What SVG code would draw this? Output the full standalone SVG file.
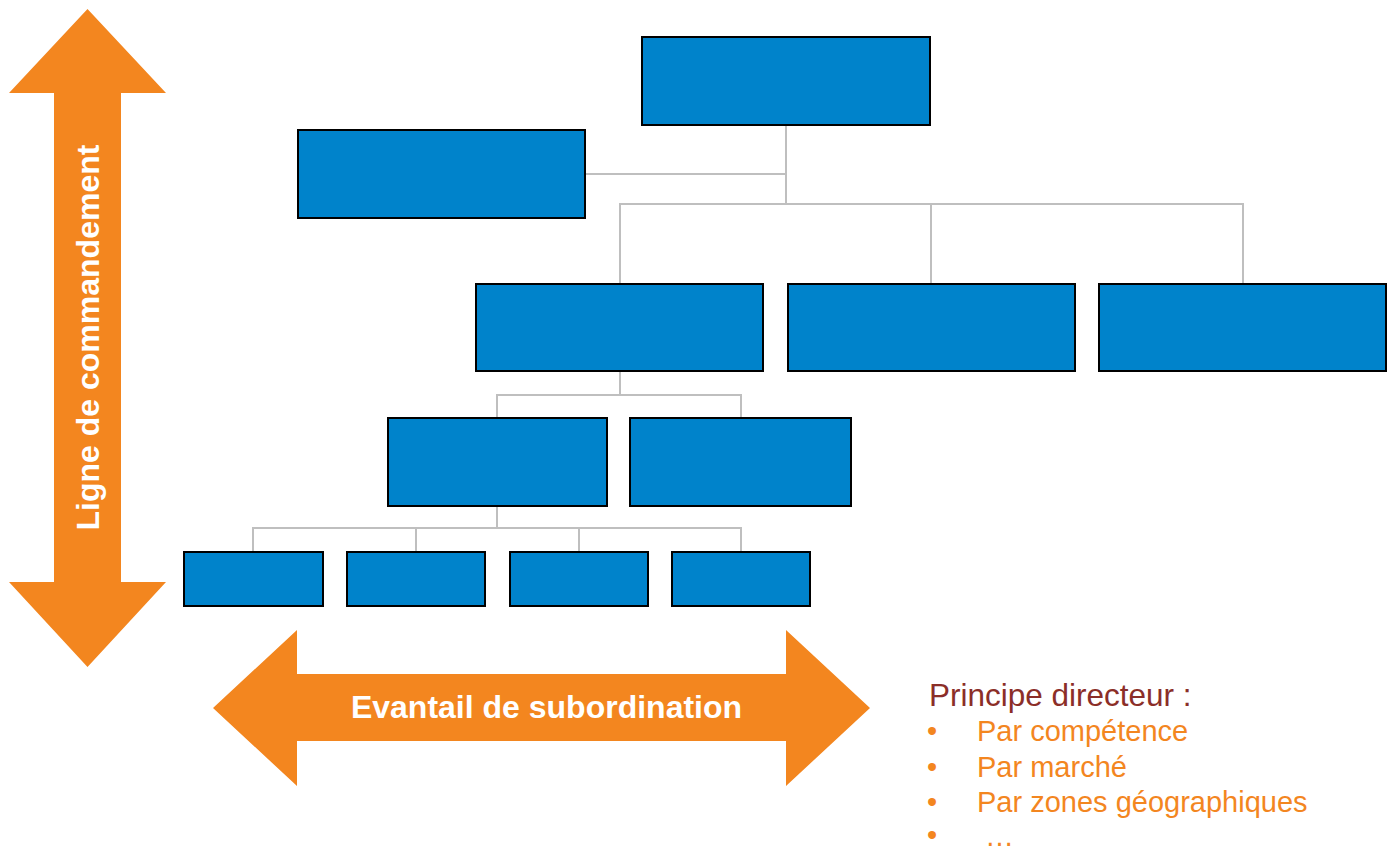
<svg xmlns="http://www.w3.org/2000/svg" width="1391" height="852" viewBox="0 0 1391 852">
<style>
.box{fill:#0083cb;stroke:#000;stroke-width:2}
.con{fill:none;stroke:#bfbfbf;stroke-width:2}
.arr{fill:#f3861f}
.wl{font-family:"Liberation Sans",Arial,sans-serif;font-weight:bold;font-size:32px;fill:#fff}
.lst{font-family:"Liberation Sans",Arial,sans-serif;font-size:29px;fill:#f3861f}
.hd{font-family:"Liberation Sans",Arial,sans-serif;font-size:31.5px;fill:#8b2e28}
</style>
<rect width="1391" height="852" fill="#fff"/>
<g id="connectors">
<path class="con" d="M786,125V204M585,174H786M620,284V204H1243V284M931,204V284"/>
<path class="con" d="M620,371V395M497,418V395H741V418"/>
<path class="con" d="M497,506V528M253,552V528H741V552M416,528V552M579,528V552"/>
</g>
<g id="n-top"><rect class="box" x="642" y="37" width="288" height="88"/></g>
<g id="n-staff"><rect class="box" x="298" y="130" width="287" height="88"/></g>
<g id="n-r2a"><rect class="box" x="476" y="284" width="287" height="87"/></g>
<g id="n-r2b"><rect class="box" x="788" y="284" width="287" height="87"/></g>
<g id="n-r2c"><rect class="box" x="1099" y="284" width="287" height="87"/></g>
<g id="n-r3a"><rect class="box" x="388" y="418" width="219" height="88"/></g>
<g id="n-r3b"><rect class="box" x="630" y="418" width="221" height="88"/></g>
<g id="n-r4a"><rect class="box" x="184" y="552" width="139" height="54"/></g>
<g id="n-r4b"><rect class="box" x="347" y="552" width="138" height="54"/></g>
<g id="n-r4c"><rect class="box" x="510" y="552" width="138" height="54"/></g>
<g id="n-r4d"><rect class="box" x="672" y="552" width="138" height="54"/></g>
<g id="arrow-vertical">
<polygon class="arr" points="87.5,9 166,93 121,93 121,582 166,582 87.5,667 9,582 54,582 54,93 9,93"/>
<text class="wl" transform="translate(99,337.5) rotate(-90)" text-anchor="middle">Ligne de commandement</text>
</g>
<g id="arrow-horizontal">
<polygon class="arr" points="213,708 297,630 297,674 786,674 786,630 870,708 786,786 786,741 297,741 297,786"/>
<text class="wl" x="546.5" y="718" text-anchor="middle">Evantail de subordination</text>
</g>
<g id="legend">
<text class="hd" x="929" y="706">Principe directeur :</text>
<text class="lst" x="927" y="741">•</text><text class="lst" x="977" y="741">Par compétence</text>
<text class="lst" x="927" y="777">•</text><text class="lst" x="977" y="777">Par marché</text>
<text class="lst" x="927" y="812">•</text><text class="lst" x="977" y="812">Par zones géographiques</text>
<text class="lst" x="927" y="845">•</text><text class="lst" x="985" y="846">…</text>
</g>
</svg>
